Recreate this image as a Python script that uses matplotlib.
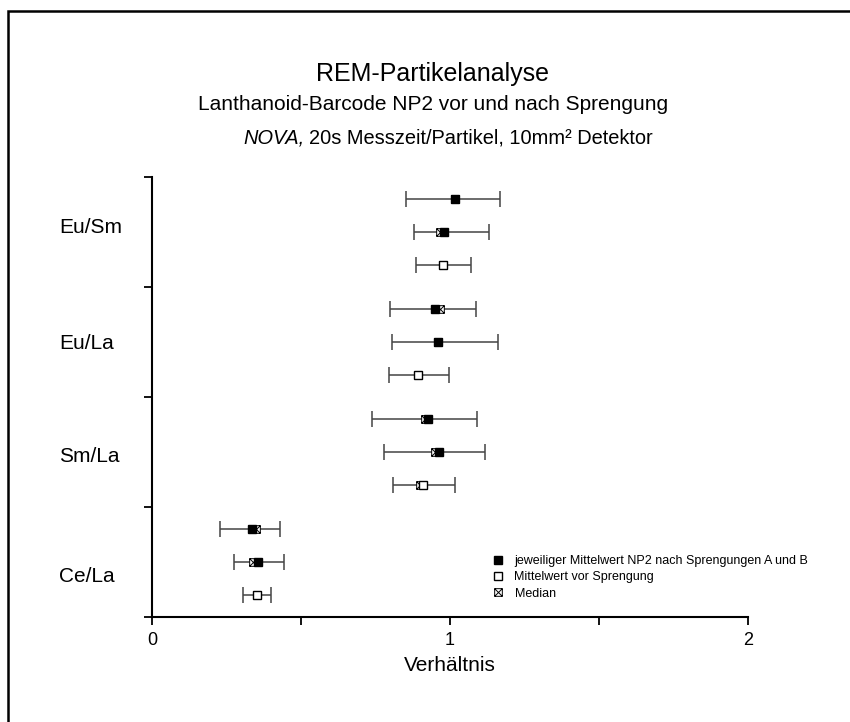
import matplotlib
matplotlib.use("Agg")
import matplotlib.pyplot as plt
from matplotlib.path import Path
from matplotlib.patches import Rectangle
from matplotlib.lines import Line2D

plt.rcParams['font.family'] = ['Liberation Sans', 'DejaVu Sans']

# Verhaeltnisse, von oben nach unten
ratios = ['Eu/Sm', 'Eu/La', 'Sm/La', 'Ce/La']
label_y = [3.54, 2.49, 1.46, 0.37]

# nach Sprengung A
mean_a = [1.018, 0.949, 0.927, 0.337]
lo_a = [0.852, 0.797, 0.739, 0.227]
hi_a = [1.167, 1.088, 1.090, 0.431]
med_a = [1.018, 0.966, 0.916, 0.350]

# nach Sprengung B
mean_b = [0.980, 0.960, 0.963, 0.357]
lo_b = [0.880, 0.806, 0.779, 0.276]
hi_b = [1.131, 1.160, 1.119, 0.444]
med_b = [0.967, 0.960, 0.949, 0.340]

# vor Sprengung
mean_vor = [0.976, 0.893, 0.908, 0.351]
lo_vor = [0.886, 0.794, 0.808, 0.307]
hi_vor = [1.070, 0.997, 1.016, 0.400]
med_vor = [0.976, 0.893, 0.899, 0.351]

x_ticks = [0, 1, 2]
x_minor = [0.5, 1.5]

# Quadrat mit Kreuz fuer den Median
box_x = Path([(-1, -1), (1, -1), (1, 1), (-1, 1), (-1, -1),
              (-1, -1), (1, 1), (-1, 1), (1, -1)],
             [Path.MOVETO, Path.LINETO, Path.LINETO, Path.LINETO, Path.CLOSEPOLY,
              Path.MOVETO, Path.LINETO, Path.MOVETO, Path.LINETO])

fig = plt.figure(figsize=(8.5, 7.22), dpi=100)
ax = fig.add_axes([152 / 850, 105 / 722, 596 / 850, 440 / 722])

# Rahmen um die Grafik
fig.patches.append(Rectangle((8 / 850, -0.1), 1.2, (722 - 11) / 722 + 0.1,
                             transform=fig.transFigure, fill=False,
                             lw=1.8, ec='black'))

n = len(ratios)
rows = [(mean_a, lo_a, hi_a, med_a, 0.8, 'black'),
        (mean_b, lo_b, hi_b, med_b, 0.5, 'black'),
        (mean_vor, lo_vor, hi_vor, med_vor, 0.2, 'white')]

for means, lows, highs, meds, off, fc in rows:
    ys = [n - 1 - i + off for i in range(n)]
    xerr = [[m - l for m, l in zip(means, lows)],
            [h - m for m, h in zip(means, highs)]]
    ax.errorbar(means, ys, xerr=xerr, fmt='none', ecolor='#444444',
                elinewidth=1.1, capsize=5.5, capthick=1.1, zorder=2)
    ax.plot(meds, ys, ls='none', marker=box_x, ms=5.5, mfc='white',
            mec='black', mew=0.7, zorder=3)
    ax.plot(means, ys, ls='none', marker='s', ms=6, mfc=fc,
            mec='black', mew=1.0, zorder=4)

ax.set_xlim(0, 2)
ax.set_ylim(0, 4)
ax.set_xticks(x_ticks)
ax.set_xticklabels([str(t) for t in x_ticks], fontsize=13)
ax.set_xticks(x_minor, minor=True)
ax.set_yticks(range(0, n + 1))
ax.set_yticklabels([])
ax.tick_params(axis='both', which='both', direction='out', length=6,
               width=1.3, pad=5)
for s in ['top', 'right']:
    ax.spines[s].set_visible(False)
for s in ['left', 'bottom']:
    ax.spines[s].set_linewidth(1.5)

for name, y in zip(ratios, label_y):
    ax.text(-0.156, y, name, transform=ax.get_yaxis_transform(),
            ha='left', va='center', fontsize=15)

ax.set_xlabel('Verhältnis', fontsize=15, labelpad=5)

fig.text(433 / 850, 1 - 74 / 722, 'REM-Partikelanalyse', ha='center',
         va='center', fontsize=18)
fig.text(433 / 850, 1 - 105 / 722,
         'Lanthanoid-Barcode NP2 vor und nach Sprengung', ha='center',
         va='center', fontsize=15)

# dritte Zeile: Geraetename kursiv, Rest normal
nova = fig.text(243 / 850, 1 - 138 / 722, 'NOVA,', style='italic',
                ha='left', va='center', fontsize=14.4)
fig.canvas.draw()
bb = nova.get_window_extent()
fig.text(bb.x1 / 850 + 5 / 850, 1 - 138 / 722,
         '20s Messzeit/Partikel, 10mm² Detektor',
         ha='left', va='center', fontsize=14.4)

handles = [
    Line2D([], [], ls='none', marker='s', ms=6, mfc='black', mec='black'),
    Line2D([], [], ls='none', marker='s', ms=6, mfc='white', mec='black'),
    Line2D([], [], ls='none', marker=box_x, ms=5.5, mfc='white',
           mec='black', mew=0.7),
]
labels = ['jeweiliger Mittelwert NP2 nach Sprengungen A und B',
          'Mittelwert vor Sprengung', 'Median']
ax.legend(handles, labels, loc='upper left',
          bbox_to_anchor=((492 - 152) / 596, (617 - 555) / 440),
          frameon=False, fontsize=9, handlelength=1.0, handletextpad=0.8,
          labelspacing=0.35, borderaxespad=0, borderpad=0)

fig.savefig('out.png', dpi=100)
